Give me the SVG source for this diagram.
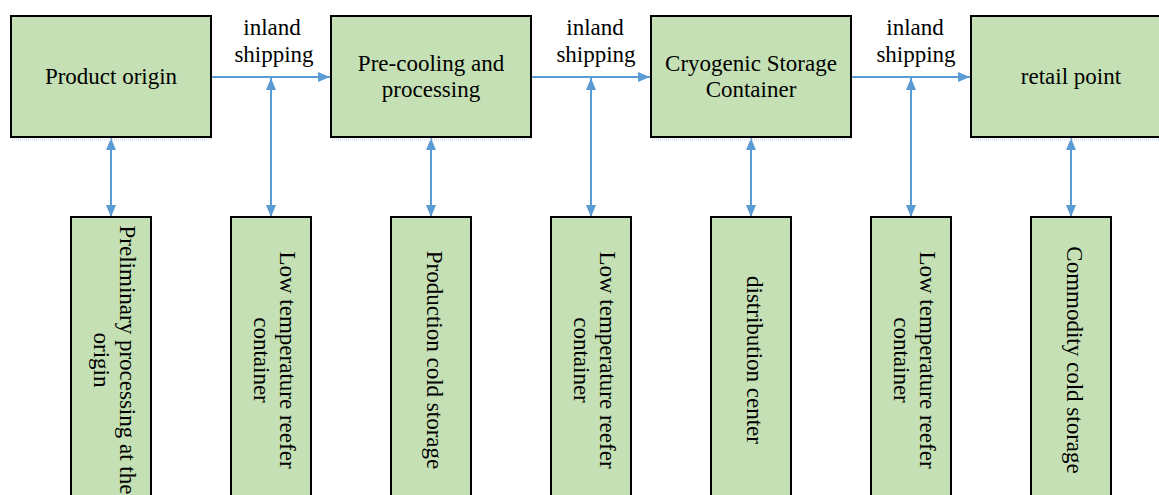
<svg xmlns="http://www.w3.org/2000/svg" width="1159" height="495" viewBox="0 0 1159 495">
  <style>
    .box { fill: #C5E0B4; stroke: #000000; stroke-width: 2; }
    .shadow { stroke: #D3E2F2; stroke-width: 2; stroke-dasharray: 1 1; fill: none; }
    .t { font-family: "Liberation Serif", "Times New Roman", serif; font-size: 23px; fill: #000000; text-anchor: middle; }
    .conn { stroke: #5B9BD5; stroke-width: 2; fill: none; }
  </style>
  <defs>
    <marker id="ah" markerUnits="userSpaceOnUse" markerWidth="12" markerHeight="10" refX="12" refY="5" orient="auto-start-reverse" viewBox="0 0 12 10">
      <path d="M0,0 L12,5 L0,10 Z" fill="#5B9BD5"/>
    </marker>
  </defs>
  <rect width="1159" height="495" fill="#FFFFFF"/>

  <g id="connectors">
    <path class="conn" d="M211,77 H330" marker-end="url(#ah)"/>
    <path class="conn" d="M531,77 H650" marker-end="url(#ah)"/>
    <path class="conn" d="M851,77 H970" marker-end="url(#ah)"/>
    <path class="conn" d="M111,138 V217" marker-start="url(#ah)" marker-end="url(#ah)"/>
    <path class="conn" d="M431,138 V217" marker-start="url(#ah)" marker-end="url(#ah)"/>
    <path class="conn" d="M751,138 V217" marker-start="url(#ah)" marker-end="url(#ah)"/>
    <path class="conn" d="M1071,138 V217" marker-start="url(#ah)" marker-end="url(#ah)"/>
    <path class="conn" d="M271,78 V217" marker-start="url(#ah)" marker-end="url(#ah)"/>
    <path class="conn" d="M591,78 V217" marker-start="url(#ah)" marker-end="url(#ah)"/>
    <path class="conn" d="M911,78 V217" marker-start="url(#ah)" marker-end="url(#ah)"/>
    <text class="t" x="272" y="35">inland</text>
    <text class="t" x="274" y="62">shipping</text>
    <text class="t" x="595" y="35">inland</text>
    <text class="t" x="596" y="62">shipping</text>
    <text class="t" x="915" y="35">inland</text>
    <text class="t" x="916" y="62">shipping</text>
  </g>

  <g id="product-origin">
    <path class="shadow" d="M12,139.5 H212"/>
    <rect class="box" x="11" y="16" width="200" height="121"/>
    <text class="t" x="111" y="84">Product origin</text>
  </g>
  <g id="pre-cooling">
    <path class="shadow" d="M332,139.5 H532"/>
    <rect class="box" x="331" y="16" width="200" height="121"/>
    <text class="t" x="431" y="71">Pre-cooling and</text>
    <text class="t" x="431" y="97">processing</text>
  </g>
  <g id="cryogenic-storage">
    <path class="shadow" d="M652,139.5 H852"/>
    <rect class="box" x="651" y="16" width="200" height="121"/>
    <text class="t" x="751" y="71">Cryogenic Storage</text>
    <text class="t" x="751" y="97">Container</text>
  </g>
  <g id="retail-point">
    <path class="shadow" d="M972,139.5 H1159"/>
    <rect class="box" x="971" y="16" width="200" height="121"/>
    <text class="t" x="1071" y="84">retail point</text>
  </g>

  <g id="preliminary-processing">
    <rect class="box" x="71" y="217" width="80" height="290"/>
    <g transform="translate(111,360) rotate(90)">
      <text class="t" x="0" y="-9">Preliminary processing at the</text>
      <text class="t" x="0" y="17">origin</text>
    </g>
  </g>
  <g id="reefer-1">
    <rect class="box" x="231" y="217" width="80" height="290"/>
    <g transform="translate(271,360) rotate(90)">
      <text class="t" x="0" y="-9">Low temperature reefer</text>
      <text class="t" x="0" y="17">container</text>
    </g>
  </g>
  <g id="production-cold-storage">
    <rect class="box" x="391" y="217" width="80" height="290"/>
    <g transform="translate(431,360) rotate(90)">
      <text class="t" x="0" y="4">Production cold storage</text>
    </g>
  </g>
  <g id="reefer-2">
    <rect class="box" x="551" y="217" width="80" height="290"/>
    <g transform="translate(591,360) rotate(90)">
      <text class="t" x="0" y="-9">Low temperature reefer</text>
      <text class="t" x="0" y="17">container</text>
    </g>
  </g>
  <g id="distribution-center">
    <rect class="box" x="711" y="217" width="80" height="290"/>
    <g transform="translate(751,360) rotate(90)">
      <text class="t" x="0" y="4">distribution center</text>
    </g>
  </g>
  <g id="reefer-3">
    <rect class="box" x="871" y="217" width="80" height="290"/>
    <g transform="translate(911,360) rotate(90)">
      <text class="t" x="0" y="-9">Low temperature reefer</text>
      <text class="t" x="0" y="17">container</text>
    </g>
  </g>
  <g id="commodity-cold-storage">
    <rect class="box" x="1031" y="217" width="80" height="290"/>
    <g transform="translate(1071,360) rotate(90)">
      <text class="t" x="0" y="4">Commodity cold storage</text>
    </g>
  </g>
</svg>
